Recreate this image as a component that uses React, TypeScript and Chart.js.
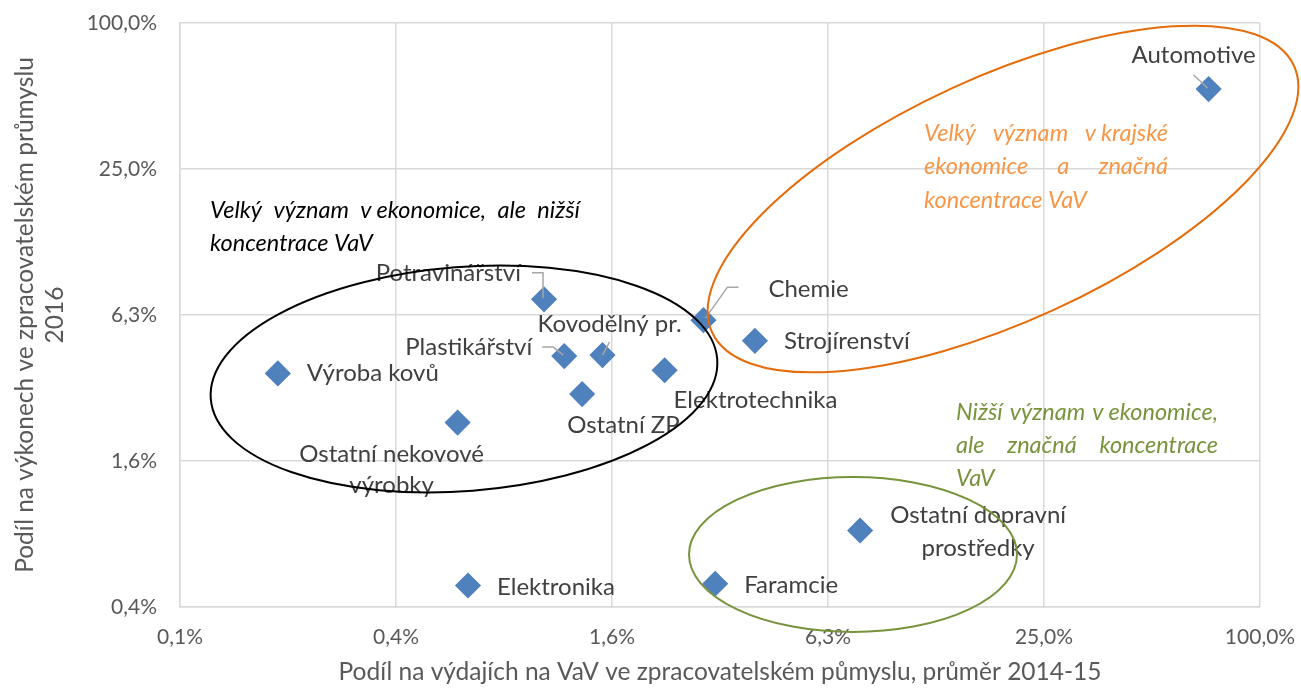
import React, { useEffect, useRef } from "react";
import { Chart, registerables } from "chart.js";

Chart.register(...registerables);

// ---------- data ----------
const sectors = [
  "Potravinářství",
  "Plastikářství",
  "Kovodělný pr.",
  "Elektrotechnika",
  "Ostatní ZP",
  "Ostatní nekovové výrobky",
  "Chemie",
  "Strojírenství",
  "Výroba kovů",
  "Elektronika",
  "Faramcie",
  "Ostatní dopravní prostředky",
  "Automotive",
];
// share of R&D expenditure in manufacturing, avg 2014-15 (%)
const rdShare = [1.01, 1.15, 1.47, 2.19, 1.29, 0.58, 2.81, 3.91, 0.183, 0.62, 3.03, 7.68, 71.9];
// share of manufacturing output 2016 (%)
const outputShare = [7.25, 4.23, 4.27, 3.7, 2.95, 2.25, 5.95, 4.89, 3.59, 0.479, 0.487, 0.808, 53.4];

const xTickValues = [0.09765625, 0.390625, 1.5625, 6.25, 25, 100];
const xTickLabels = ["0,1%", "0,4%", "1,6%", "6,3%", "25,0%", "100,0%"];
const yTickValues = [0.390625, 1.5625, 6.25, 25, 100];
const yTickLabels = ["0,4%", "1,6%", "6,3%", "25,0%", "100,0%"];

const xTitle = "Podíl na výdajích na VaV ve zpracovatelském půmyslu, průměr 2014-15";
const yTitleLines = ["Podíl na výkonech ve zpracovatelském průmyslu", "2016"];

const noteBlack = ["Velký význam v\u00a0ekonomice, ale nižší", "koncentrace VaV"];
const noteOrange = ["Velký význam v\u00a0krajské", "ekonomice a značná", "koncentrace VaV"];
const noteGreen = ["Nižší význam v\u00a0ekonomice,", "ale značná koncentrace", "VaV"];

// ---------- styling / layout ----------
const FONT = "Lato";
const LABEL_COLOR = "#404040";
const AXIS_COLOR = "#595959";
const GRID_COLOR = "#D9D9D9";
const MARKER_COLOR = "#4F81BD";
const LEADER_COLOR = "#A6A6A6";

type LabelLayout = {
  dx: number;
  dy: number;
  align: CanvasTextAlign;
  split?: number; // words on first line
  lineGap?: number;
  leader?: [number, number][];
};

const labelLayout: LabelLayout[] = [
  { dx: -23, dy: -26, align: "right", leader: [[-12, -26.6], [-1, -26.6], [-1, -1]] },
  { dx: -32, dy: -9, align: "right", leader: [[-22, -9], [-11, -9], [-1, -1]] },
  { dx: 7, dy: -31, align: "center", leader: [[7, -13], [0, 0]] },
  { dx: 9, dy: 30, align: "left" },
  { dx: -15, dy: 31, align: "left" },
  { dx: -66, dy: 32, align: "center", split: 2, lineGap: 31 },
  { dx: 65, dy: -31, align: "left", leader: [[35, -33], [24, -33], [2, -2]] },
  { dx: 29, dy: 0, align: "left" },
  { dx: 29, dy: 0, align: "left" },
  { dx: 29, dy: 2, align: "left" },
  { dx: 29, dy: 1, align: "left" },
  { dx: 118, dy: -15, align: "center", split: 2, lineGap: 33 },
  { dx: -15, dy: -34, align: "center", leader: [[-15, -14], [-1, -1]] },
];

const ellipses = [
  { cx: 464, cy: 379, rx: 254, ry: 112, rot: -4.5, color: "#000000" },
  { cx: 1003, cy: 199, rx: 320, ry: 122, rot: -24.6, color: "#E46C0A" },
  { cx: 853, cy: 554.5, rx: 164, ry: 77.5, rot: 0, color: "#77933C" },
];

const notes = [
  { lines: noteBlack, x: 210, y: 210, width: 370, lh: 33, color: "#000000" },
  { lines: noteOrange, x: 924, y: 133.5, width: 244, lh: 33.3, color: "#F79646" },
  { lines: noteGreen, x: 956, y: 412, width: 262, lh: 33, color: "#77933C" },
];

function drawJustified(
  ctx: CanvasRenderingContext2D,
  lines: string[],
  x: number,
  y0: number,
  width: number,
  lh: number
) {
  ctx.textAlign = "left";
  lines.forEach((line, i) => {
    const y = y0 + i * lh;
    const words = line.split(" ");
    if (i === lines.length - 1 || words.length < 2) {
      ctx.fillText(line, x, y);
      return;
    }
    const total = words.reduce((s, w) => s + ctx.measureText(w).width, 0);
    const gap = (width - total) / (words.length - 1);
    let cx = x;
    words.forEach((w) => {
      ctx.fillText(w, cx, y);
      cx += ctx.measureText(w).width + gap;
    });
  });
}

const overlayPlugin = {
  id: "overlay",
  afterDatasetsDraw(chart: any) {
    const ctx: CanvasRenderingContext2D = chart.ctx;
    const meta = chart.getDatasetMeta(0);
    ctx.save();

    // leader lines + labels
    ctx.font = `24px ${FONT}`;
    ctx.fillStyle = LABEL_COLOR;
    ctx.textBaseline = "middle";
    meta.data.forEach((pt: any, i: number) => {
      const L = labelLayout[i];
      if (!L) return;
      if (L.leader) {
        ctx.beginPath();
        ctx.strokeStyle = LEADER_COLOR;
        ctx.lineWidth = 1.5;
        L.leader.forEach(([lx, ly], k) => {
          if (k === 0) ctx.moveTo(pt.x + lx, pt.y + ly);
          else ctx.lineTo(pt.x + lx, pt.y + ly);
        });
        ctx.stroke();
      }
      ctx.textAlign = L.align;
      const name = sectors[i];
      if (L.split) {
        const words = name.split(" ");
        const l1 = words.slice(0, L.split).join(" ");
        const l2 = words.slice(L.split).join(" ");
        ctx.fillText(l1, pt.x + L.dx, pt.y + L.dy);
        ctx.fillText(l2, pt.x + L.dx, pt.y + L.dy + (L.lineGap || 31));
      } else {
        ctx.fillText(name, pt.x + L.dx, pt.y + L.dy);
      }
    });

    // notes
    ctx.font = `italic 23.5px ${FONT}`;
    notes.forEach((n) => {
      ctx.fillStyle = n.color;
      drawJustified(ctx, n.lines, n.x, n.y, n.width, n.lh);
    });

    // ellipses
    ctx.lineWidth = 2;
    ellipses.forEach((e) => {
      ctx.beginPath();
      ctx.strokeStyle = e.color;
      ctx.ellipse(e.cx, e.cy, e.rx, e.ry, (e.rot * Math.PI) / 180, 0, Math.PI * 2);
      ctx.stroke();
    });

    // axis titles
    ctx.fillStyle = AXIS_COLOR;
    ctx.font = `24.5px ${FONT}`;
    ctx.textAlign = "center";
    const area = chart.chartArea;
    ctx.fillText(xTitle, (area.left + area.right) / 2, 672);
    const cy = (area.top + area.bottom) / 2;
    const xs = [25, 55];
    yTitleLines.forEach((t, i) => {
      ctx.save();
      ctx.translate(xs[i], cy);
      ctx.rotate(-Math.PI / 2);
      ctx.fillText(t, 0, 0);
      ctx.restore();
    });

    ctx.restore();
  },
};

export default function App() {
  const ref = useRef<HTMLCanvasElement | null>(null);

  useEffect(() => {
    if (!ref.current) return;
    const chart = new Chart(ref.current, {
      type: "scatter",
      data: {
        datasets: [
          {
            data: sectors.map((_, i) => ({ x: rdShare[i], y: outputShare[i] })),
            pointStyle: "rectRot",
            pointRadius: 12,
            pointHoverRadius: 12,
            backgroundColor: MARKER_COLOR,
            borderColor: MARKER_COLOR,
            borderWidth: 1.5,
          },
        ],
      },
      options: {
        responsive: true,
        maintainAspectRatio: false,
        animation: false,
        layout: { padding: { top: 23, right: 41, left: 0, bottom: 0 } },
        plugins: { legend: { display: false }, tooltip: { enabled: false } },
        scales: {
          x: {
            type: "logarithmic",
            min: xTickValues[0],
            max: xTickValues[xTickValues.length - 1],
            afterBuildTicks: (s: any) => {
              s.ticks = xTickValues.map((v) => ({ value: v }));
            },
            afterFit: (s: any) => {
              s.height = 82;
              s.paddingLeft = 0;
              s.paddingRight = 0;
            },
            ticks: {
              callback: (_v: any, i: number) => xTickLabels[i],
              font: { family: FONT, size: 21 },
              color: AXIS_COLOR,
              padding: 18,
              maxRotation: 0,
              autoSkip: false,
            },
            grid: { color: GRID_COLOR, lineWidth: 1.5, drawTicks: false },
            border: { color: GRID_COLOR, width: 1.5 },
          },
          y: {
            type: "logarithmic",
            min: yTickValues[0],
            max: yTickValues[yTickValues.length - 1],
            afterBuildTicks: (s: any) => {
              s.ticks = yTickValues.map((v) => ({ value: v }));
            },
            afterFit: (s: any) => {
              s.width = 180;
              s.paddingTop = 0;
              s.paddingBottom = 0;
            },
            ticks: {
              callback: (_v: any, i: number) => yTickLabels[i],
              font: { family: FONT, size: 21 },
              color: AXIS_COLOR,
              padding: 23,
              autoSkip: false,
            },
            grid: { color: GRID_COLOR, lineWidth: 1.5, drawTicks: false },
            border: { color: GRID_COLOR, width: 1.5 },
          },
        },
      },
      plugins: [overlayPlugin],
    });
    return () => chart.destroy();
  }, []);

  return (
    <div style={{ position: "absolute", left: 0, top: 0, width: 1301, height: 689, background: "#fff" }}>
      <canvas ref={ref} />
    </div>
  );
}
